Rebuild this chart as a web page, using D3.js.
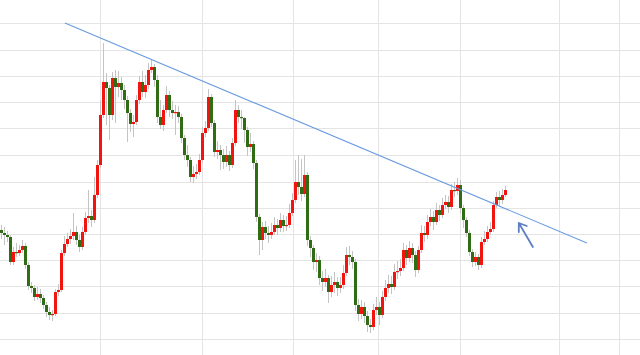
<!DOCTYPE html>
<html>
<head>
<meta charset="utf-8">
<script src="https://cdn.jsdelivr.net/npm/d3@7"></script>
<style>
  html, body { margin: 0; padding: 0; background: #fff; }
  svg { display: block; }
</style>
</head>
<body>
<div id="chart"></div>
<script>
// candlestick chart with a falling trend line and an arrow
// ── data ─────────────────────────────────────────────
const firstOpen = 112.5;

const closes = [
  112.2, 112.0, 111.8, 109.3, 110.3, 110.2, 110.5, 110.9, 109.0, 106.9,
  106.7, 105.8, 106.1, 105.7, 105.0, 104.3, 104.0, 104.1, 106.3, 106.5,
  110.2, 111.1, 111.6, 111.9, 112.3, 111.5, 110.8, 112.3, 113.7, 113.9,
  113.5, 116.0, 119.0, 124.0, 127.3, 126.7, 124.0, 127.7, 126.8, 127.2,
  126.5, 125.5, 124.2, 123.1, 123.3, 125.5, 127.3, 126.3, 127.0, 128.5,
  128.8, 127.5, 123.8, 123.0, 124.5, 126.0, 124.5, 124.2, 124.3, 123.8,
  121.7, 120.0, 119.5, 117.8, 118.1, 118.3, 119.5, 122.2, 122.7, 125.8,
  123.2, 120.3, 120.5, 120.0, 119.3, 120.0, 119.0, 121.2, 124.5, 123.8,
  123.7, 122.5, 120.8, 121.1, 119.2, 113.8, 111.5, 112.8, 112.2, 112.0,
  112.3, 113.0, 112.7, 113.5, 112.9, 113.0, 114.2, 115.5, 117.3, 116.8,
  116.1, 118.0, 111.5, 110.7, 109.3, 109.5, 107.7, 107.3, 107.7, 106.3,
  107.0, 107.3, 106.7, 107.0, 108.2, 110.0, 109.8, 109.3, 105.0, 104.1,
  104.8, 103.9, 103.0, 102.8, 104.5, 104.8, 104.0, 105.8, 106.7, 107.1,
  106.8, 108.3, 108.4, 108.7, 110.5, 109.7, 110.7, 110.0, 108.5, 110.5,
  112.2, 112.0, 113.3, 113.8, 113.3, 114.5, 114.0, 115.0, 115.3, 114.8,
  116.5, 116.4, 117.0, 114.7, 113.5, 112.2, 110.3, 109.3, 109.8, 109.0,
  111.3, 111.6, 112.3, 112.6, 115.0, 115.8, 115.5, 116.0, 116.5
];

const highs = [
  113.0, 112.8, 112.4, 112.0, 110.8, 111.2, 111.0, 111.5, 111.2, 109.3,
  107.3, 107.0, 106.8, 106.6, 106.0, 105.3, 104.8, 104.5, 106.6, 107.1,
  110.5, 111.9, 112.2, 112.6, 114.2, 112.9, 112.0, 112.8, 114.3, 116.5,
  114.5, 117.8, 119.5, 125.5, 131.2, 128.2, 127.0, 128.3, 128.5, 128.4,
  127.8, 127.0, 125.9, 124.6, 124.0, 126.0, 127.9, 128.4, 128.0, 129.2,
  129.6, 129.1, 128.0, 125.5, 125.0, 126.9, 126.4, 125.4, 125.0, 124.9,
  124.1, 122.0, 121.0, 119.8, 118.9, 119.1, 120.1, 122.8, 123.4, 126.6,
  126.1, 123.5, 121.4, 121.0, 120.6, 120.9, 120.4, 121.7, 125.5, 125.0,
  124.5, 123.8, 122.8, 122.2, 121.4, 119.5, 114.1, 113.3, 113.4, 112.9,
  113.2, 113.8, 113.6, 114.2, 114.0, 113.9, 115.1, 116.2, 119.5, 120.0,
  119.6, 120.0, 118.3, 111.9, 111.0, 110.2, 109.9, 108.4, 108.6, 108.0,
  107.9, 108.3, 107.8, 107.8, 109.0, 110.8, 110.9, 110.4, 109.6, 105.6,
  105.5, 105.3, 104.4, 103.6, 105.1, 105.8, 105.3, 106.4, 107.5, 108.0,
  107.9, 109.1, 109.4, 109.6, 111.2, 111.0, 111.4, 111.2, 110.4, 110.9,
  113.0, 112.9, 114.0, 114.6, 114.4, 115.2, 115.0, 115.7, 116.0, 115.9,
  117.1, 117.3, 117.7, 117.5, 115.0, 113.8, 112.5, 110.6, 110.3, 110.1,
  111.8, 112.4, 112.9, 113.3, 115.4, 116.3, 116.4, 116.6, 116.9
];

const lows = [
  111.6, 111.0, 111.3, 109.0, 109.0, 109.8, 109.9, 110.2, 108.6, 106.5,
  106.2, 105.4, 105.5, 105.2, 104.6, 103.8, 103.5, 103.4, 103.9, 105.9,
  106.3, 109.9, 110.8, 111.1, 111.5, 111.0, 110.3, 110.5, 112.0, 113.2,
  112.8, 113.2, 115.7, 118.7, 123.7, 123.0, 121.5, 123.5, 123.2, 125.8,
  125.5, 124.6, 121.3, 122.3, 121.8, 123.0, 125.1, 125.8, 125.7, 126.6,
  128.2, 126.8, 123.2, 122.6, 122.4, 124.2, 123.8, 123.6, 122.0, 123.2,
  121.2, 119.5, 118.8, 117.3, 117.2, 117.6, 118.0, 119.2, 121.8, 122.4,
  122.8, 119.8, 119.6, 118.5, 118.6, 118.8, 118.4, 118.7, 120.9, 123.2,
  122.6, 121.2, 119.9, 120.3, 118.6, 113.3, 110.0, 110.5, 111.6, 111.2,
  111.6, 112.0, 112.0, 112.3, 112.3, 112.4, 112.7, 113.9, 115.2, 116.0,
  115.4, 115.8, 110.9, 109.8, 108.5, 108.3, 107.0, 106.4, 106.8, 105.2,
  105.8, 106.2, 105.9, 106.2, 106.6, 107.9, 109.0, 108.6, 104.4, 103.4,
  103.6, 103.2, 102.3, 102.2, 102.5, 104.0, 103.0, 103.7, 105.4, 106.2,
  106.1, 106.5, 107.6, 107.9, 108.4, 109.0, 109.3, 109.2, 107.8, 108.2,
  110.2, 111.3, 111.6, 112.9, 112.5, 113.0, 113.4, 113.7, 114.6, 114.2,
  114.5, 115.8, 116.0, 114.2, 112.7, 111.8, 109.9, 108.8, 108.9, 108.5,
  108.7, 111.0, 111.3, 112.0, 112.3, 114.7, 114.8, 115.1, 115.8
];

// unlabeled grid levels (price) and session breaks (bar index)
const gridLevels = [133.2, 130.5, 127.9, 125.3, 122.7, 120.0, 117.3, 114.7, 112.1, 109.5, 106.9, 104.2, 101.6];
const sessionBreaks = [33, 67, 97.3, 125.7, 153, 186, 206];

// trend line and arrow annotations, in bar index / price
const trendLine = [{ i: 21.3, p: 133.2 }, { i: 195.3, p: 111.2 }];
const arrow = { from: { i: 177.3, p: 110.8 }, to: { i: 172.6, p: 113.2 } };

// ── setup ────────────────────────────────────────────
const width = 640, height = 355;

const svg = d3.select("#chart").append("svg")
  .attr("width", width)
  .attr("height", height);

const x = d3.scaleLinear().domain([0, 213]).range([1, 640]);
const y = d3.scaleLinear().domain([100, 135.5]).range([355, 0]);

const candles = closes.map((c, i) => ({
  i,
  o: i === 0 ? firstOpen : closes[i - 1],
  h: highs[i],
  l: lows[i],
  c
}));

const crisp = v => Math.round(v) + 0.5;

// grid
svg.append("g").selectAll("line")
  .data(gridLevels)
  .join("line")
    .attr("x1", 0).attr("x2", width)
    .attr("y1", d => crisp(y(d))).attr("y2", d => crisp(y(d)))
    .attr("stroke", "#e4e4e4");

svg.append("g").selectAll("line")
  .data(sessionBreaks)
  .join("line")
    .attr("x1", d => crisp(x(d))).attr("x2", d => crisp(x(d)))
    .attr("y1", 0).attr("y2", height)
    .attr("stroke", "#e4e4e4");

// wicks
svg.append("g").selectAll("line")
  .data(candles)
  .join("line")
    .attr("x1", d => crisp(x(d.i))).attr("x2", d => crisp(x(d.i)))
    .attr("y1", d => y(d.h)).attr("y2", d => y(d.l))
    .attr("stroke", "#c4c4c4")
    .attr("stroke-width", 1);

// bodies
const bw = 3;
svg.append("g").selectAll("rect")
  .data(candles)
  .join("rect")
    .attr("x", d => Math.round(x(d.i)) - 1)
    .attr("y", d => y(Math.max(d.o, d.c)))
    .attr("width", bw)
    .attr("height", d => Math.max(1.2, Math.abs(y(d.o) - y(d.c))))
    .attr("fill", d => d.c >= d.o ? "#f2140f" : "#2f6c14");

// trend line
svg.append("line")
  .attr("x1", x(trendLine[0].i)).attr("y1", y(trendLine[0].p))
  .attr("x2", x(trendLine[1].i)).attr("y2", y(trendLine[1].p))
  .attr("stroke", "#6a9be0")
  .attr("stroke-width", 1.1);

// arrow
const ax1 = x(arrow.from.i), ay1 = y(arrow.from.p),
      ax2 = x(arrow.to.i),   ay2 = y(arrow.to.p);
svg.append("path")
  .attr("d", `M${ax1},${ay1}L${ax2},${ay2}M${ax2},${ay2 + 9}L${ax2},${ay2}L${ax2 + 8},${ay2 + 3}`)
  .attr("fill", "none")
  .attr("stroke", "#5f7fc4")
  .attr("stroke-width", 1.8)
  .attr("stroke-linecap", "round")
  .attr("stroke-linejoin", "round");
</script>
</body>
</html>
